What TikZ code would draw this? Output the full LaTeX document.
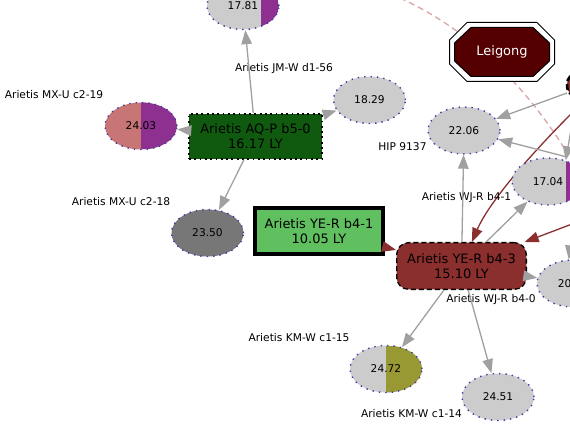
\documentclass[tikz,border=0pt]{standalone}
\usepackage{fontspec}
\setmainfont{DejaVu Sans}
\usepackage{tikz}
\usetikzlibrary{shapes.geometric,arrows.meta,positioning,backgrounds}
\definecolor{bodygray}{HTML}{cccccc}
\definecolor{darkbody}{HTML}{777777}
\definecolor{dotblue}{HTML}{3c3caa}
\definecolor{ringpurple}{HTML}{8e3090}
\definecolor{rosered}{HTML}{c87575}
\definecolor{olive}{HTML}{999933}
\definecolor{aqgreen}{HTML}{105a10}
\definecolor{yegreen}{HTML}{60c060}
\definecolor{yered}{HTML}{8b2e2e}
\definecolor{leired}{HTML}{550000}
\definecolor{linkgray}{HTML}{a0a0a0}
\definecolor{trailpink}{HTML}{d9a5a5}

\begin{document}
\begin{tikzpicture}[x=1bp, y=-1bp,
    body/.style   = {ellipse, draw=dotblue, fill=bodygray, line width=1.4bp,
                     dash pattern=on 1.4bp off 5bp, minimum width=72bp,
                     minimum height=47bp, inner sep=0pt,
                     font=\fontsize{10.7}{12}\selectfont},
    half/.style 2 args = {path picture={\fill[#1]
                     ([xshift=#2]path picture bounding box.south)
                     rectangle (path picture bounding box.north east);}},
    sysbox/.style = {rectangle, align=center, inner sep=0pt,
                     font=\fontsize{13}{15}\selectfont},
    tag/.style    = {inner sep=0pt, font=\fontsize{10.7}{12}\selectfont},
    link/.style   = {-{Triangle[length=14bp,width=10.5bp]}, line width=1.3bp, linkgray},
    route/.style  = {-{Triangle[length=14bp,width=10.5bp]}, line width=1.3bp, yered},
    trail/.style  = {line width=1.3bp, trailpink, dash pattern=on 6bp off 4bp},
]
  \useasboundingbox (0,0) rectangle (570,447);

  % systems
  \node[sysbox, fill=aqgreen, draw=black, line width=1.8bp,
        dash pattern=on 1.8bp off 3.5bp, minimum width=133bp,
        minimum height=45bp] (aqp) at (255.5,136.5) {Arietis AQ-P b5-0\\16.17 LY};
  \node[sysbox, fill=yegreen, draw=black, line width=4bp,
        minimum width=128bp, minimum height=46bp] (b41) at (319,231) {Arietis YE-R b4-1\\10.05 LY};
  \node[sysbox, fill=yered, draw=black, line width=1.3bp,
        dash pattern=on 5bp off 3bp, rounded corners=12bp,
        minimum width=129.7bp, minimum height=46.7bp] (b43) at (461.5,266) {Arietis YE-R b4-3\\15.10 LY};
  \node[sysbox, fill=yered, draw=black, line width=2.5bp,
        dash pattern=on 6bp off 3bp, rounded corners=10bp,
        minimum width=130bp, minimum height=22.5bp] (offsys) at (632,85) {};
  \node[sysbox, text=white] (leigong) at (502,52) {Leigong};

  % bodies
  \node[body, half={ringpurple}{18bp}] (n1781) at (243,6)     {17.81};
  \node[body]                          (n1829) at (369.5,100) {18.29};
  \node[body, fill=rosered, half={ringpurple}{0bp}] (n2403) at (141,126) {24.03};
  \node[body, fill=darkbody]           (n2350) at (207.5,233) {23.50};
  \node[body]                          (n2206) at (464,130.5) {22.06};
  \node[body, half={ringpurple}{18bp}] (n1704) at (548,181.5) {17.04};
  \node[body]                          (n20)   at (573,283.5) {20.\phantom{00}};
  \node[body, half={olive}{0bp}]       (n2472) at (386,369)   {24.72};
  \node[body]                          (n2451) at (498,397)   {24.51};

  % names
  \node[tag] (t1) at (284,69)    {Arietis JM-W d1-56};
  \node[tag] (t2) at (54,95)     {Arietis MX-U c2-19};
  \node[tag] (t3) at (121,202)   {Arietis MX-U c2-18};
  \node[tag] (t4) at (402.5,147) {HIP 9137};
  \node[tag] (t5) at (466.5,198) {Arietis WJ-R b4-1};
  \node[tag] (t6) at (491,300)   {Arietis WJ-R b4-0};
  \node[tag] (t7) at (299,338)   {Arietis KM-W c1-15};
  \node[tag] (t8) at (411.5,414) {Arietis KM-W c1-14};

  % free ends beyond the right edge
  \coordinate (trailA) at (400,-2);
  \coordinate (trailB) at (566,151);
  \coordinate (eA) at (567,93);
  \coordinate (eB) at (567,157);
  \coordinate (eC) at (576,100);
  \coordinate (eD) at (575,205);
  \coordinate (eE) at (572,113);
  \coordinate (eF) at (580,221);

  \begin{scope}[on background layer]
    \draw[trail] (trailA) .. controls (470,30) and (525,85) .. (trailB);
    \draw[route] (eE) .. controls (535,150) and (490,200) .. (b43);
    \draw[black, fill=white, line width=1bp, shift={(leigong.center)}]
      (-35,-29.5) -- (35,-29.5) -- (52.5,-12) -- (52.5,12) -- (35,29.5)
      -- (-35,29.5) -- (-52.5,12) -- (-52.5,-12) -- cycle;
    \draw[black, fill=leired, line width=1bp, shift={(leigong.center)}]
      (-31,-24.5) -- (31,-24.5) -- (47.5,-9) -- (47.5,9) -- (31,24.5)
      -- (-31,24.5) -- (-47.5,9) -- (-47.5,-9) -- cycle;
  \end{scope}

  % jumps from AQ-P b5-0
  \draw[link] (aqp) -- (n1781);
  \draw[link] (aqp) -- (n1829);
  \draw[link] (aqp) -- (n2403);
  \draw[link] (aqp) -- (n2350);

  % jumps from YE-R b4-3
  \draw[route] (b41) -- (b43);
  \draw[link] (b43) -- (n2206);
  \draw[link] (b43) -- (n1704);
  \draw[link] (b43) -- (n20);
  \draw[link] (b43) -- (n2472);
  \draw[link] (b43) -- (n2451);

  % from the right
  \draw[link] (eA) -- (n2206);
  \draw[link] (eB) -- (n2206);
  \draw[link] (eC) -- (n1704.50);
  \draw[link] (eD) -- (n20.100);
  \draw[route] (eF) -- (b43);

\end{tikzpicture}
\end{document}
